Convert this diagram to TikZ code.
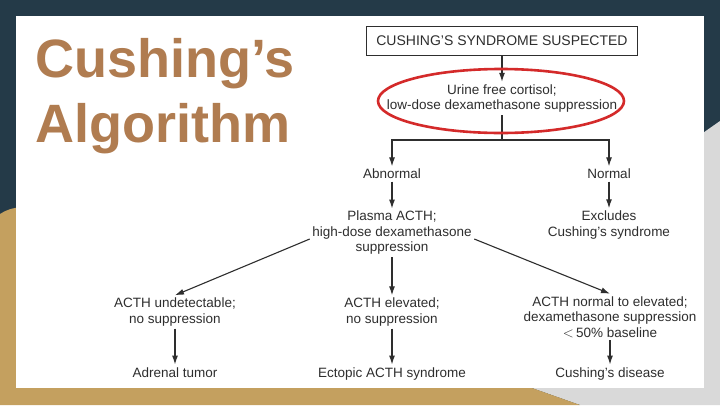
\documentclass[tikz,border=0pt]{standalone}
\usepackage{xcolor}
\usepackage{fontspec}
\usepackage{tikz}
\usetikzlibrary{arrows.meta, positioning}

\setmainfont{Liberation Sans}
\newfontfamily\flowfont{Liberation Sans}

\definecolor{slatebg}{HTML}{243A48}
\definecolor{sandbg}{HTML}{C4A05F}
\definecolor{greybg}{HTML}{D9D9D9}
\definecolor{titlebrown}{HTML}{B07C50}
\definecolor{inkgrey}{HTML}{2E2E2E}
\definecolor{markred}{HTML}{D42A2A}

\begin{document}
\begin{tikzpicture}[
    x=1pt, y=-1pt,
    >={Latex[length=9pt,width=6pt]},
    slidetitle/.style={anchor=north west, inner sep=0pt, align=left, text=titlebrown, font=\bfseries\fontsize{54}{65}\selectfont},
    headbox/.style={rectangle, draw=inkgrey, line width=1pt, minimum width=271pt, minimum height=29pt, inner sep=0pt, text=inkgrey, font=\flowfont\fontsize{14}{16}\selectfont},
    flowtext/.style={inner sep=2.5pt, align=center, text=inkgrey, font=\flowfont\fontsize{13.5}{15.5}\selectfont},
    link/.style={->, line width=1.1pt, draw=inkgrey},
]

% slide background
\useasboundingbox (0,0) rectangle (720,405);
\fill[slatebg] (0,0) rectangle (720,405);
\fill[greybg] (720,121) -- (690,142) -- (532,388) -- (580,405) -- (720,405) -- cycle;
\fill[sandbg] (0,214) .. controls (6,210) and (12,208) .. (22,207) -- (532,388) -- (580,405) -- (0,405) -- cycle;
\fill[white] (16,16) rectangle (704,388);

\node[slidetitle] (title) at (35,38) {Cushing’s\\Algorithm};

\node[headbox] (suspect) at (502,40.5) {CUSHING’S SYNDROME SUSPECTED};
\node[flowtext] (screen) at (502,98.5) {Urine free cortisol;\\low-dose dexamethasone suppression};
\node[flowtext] (abnormal) at (392,174) {Abnormal};
\node[flowtext] (normal) at (609,174) {Normal};
\node[flowtext] (plasma) at (392,233) {Plasma ACTH;\\high-dose dexamethasone\\suppression};
\node[flowtext] (excludes) at (609,225) {Excludes\\Cushing’s syndrome};
\node[flowtext] (undetect) at (175,312) {ACTH undetectable;\\no suppression};
\node[flowtext] (elevated) at (392,312) {ACTH elevated;\\no suppression};
\node[flowtext] (partial) at (610,317) {ACTH normal to elevated;\\dexamethasone suppression\\$<$\,50\% baseline};
\node[flowtext, anchor=base] (adrenal) at (175,377) {Adrenal tumor};
\node[flowtext, anchor=base] (ectopic) at (392,377) {Ectopic ACTH syndrome};
\node[flowtext, anchor=base] (disease) at (610,377) {Cushing’s disease};

\coordinate (fork) at (502,140);

\draw[link] (suspect) -- (screen);
\draw[link, -] (screen) -- (fork);
\draw[link] (fork) -| (abnormal);
\draw[link] (fork) -| (normal);
\draw[link] (abnormal) -- (plasma);
\draw[link] (normal) -- (excludes);
\draw[link] ([yshift=-6pt]plasma.west) -- (undetect.north);
\draw[link] (plasma) -- (elevated);
\draw[link] ([yshift=-6pt]plasma.east) -- (partial.north);
\draw[link] (undetect) -- (adrenal);
\draw[link] (elevated) -- (ectopic);
\draw[link] (partial) -- (disease);

% red ring round the first test
\draw[markred, line width=2.6pt] (501,101) ellipse [x radius=123pt, y radius=32pt];

\end{tikzpicture}
\end{document}
